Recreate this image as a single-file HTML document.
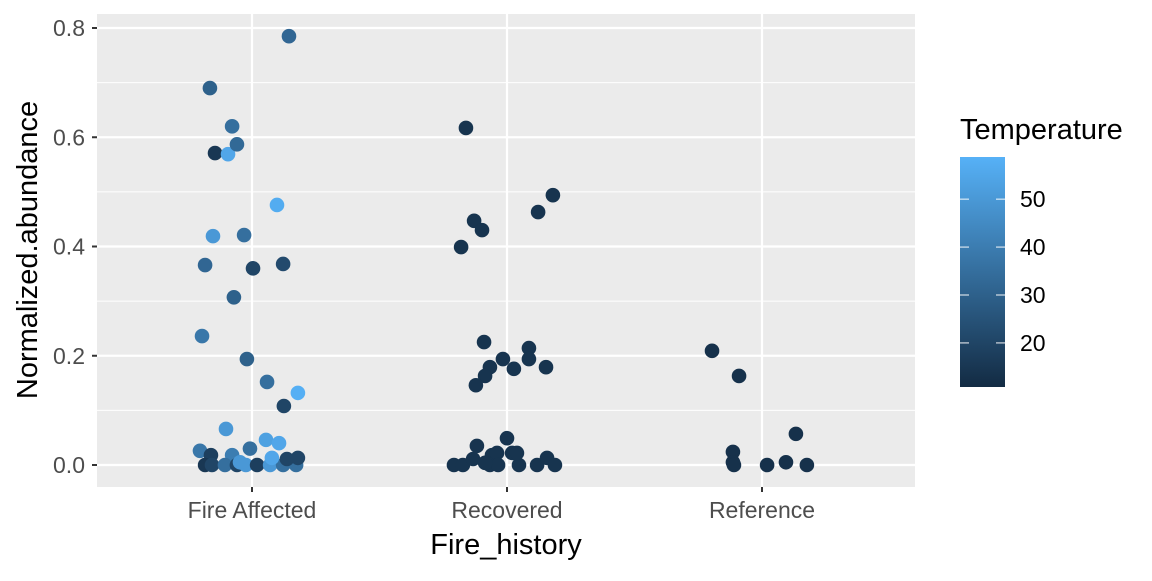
<!DOCTYPE html>
<html><head><meta charset="utf-8"><style>
body{margin:0;background:#fff;font-family:"Liberation Sans",Arial,sans-serif}
</style></head><body>
<svg id="chart" width="1152" height="576" xmlns="http://www.w3.org/2000/svg">
<defs><linearGradient id="cb" x1="0" y1="1" x2="0" y2="0"><stop offset="0" stop-color="#132B43"/><stop offset="1" stop-color="#56B1F7"/></linearGradient></defs>
<rect x="97" y="14" width="818" height="473" fill="#ebebeb"/>
<g id="grid"></g><g id="pts"></g><g id="axes"></g>
<text x="506" y="554" font-size="29" text-anchor="middle" fill="#000">Fire_history</text>
<text transform="translate(37,250) rotate(-90)" font-size="29" text-anchor="middle" fill="#000">Normalized.abundance</text>
<g>
<text x="960" y="139" font-size="29" fill="#000">Temperature</text>
<rect x="960" y="157" width="45" height="230" fill="url(#cb)"/>
<g id="leg"></g>
</g>
</svg>
<script>
const categories=["Fire Affected","Recovered","Reference"];
const yTicks=[0,0.2,0.4,0.6,0.8];
const legendTicks=[20,30,40,50];
const groupIdx=[0,0,0,0,0,0,0,0,0,0,0,0,0,0,0,0,0,0,0,0,0,0,0,0,0,0,0,0,0,0,0,0,0,0,0,0,0,0,
1,1,1,1,1,1,1,1,1,1,1,1,1,1,1,1,1,1,1,1,1,1,1,1,1,1,1,1,1,1,1,
2,2,2,2,2,2,2,2,2];
const jitter=[-0.165,0.145,-0.078,-0.145,-0.094,-0.059,0.098,-0.153,-0.031,-0.184,0.004,0.122,-0.071,-0.196,-0.02,0.059,0.125,0.18,-0.102,-0.204,0.055,0.106,-0.008,-0.161,-0.078,-0.184,-0.157,-0.106,-0.059,-0.024,0.02,0.071,0.122,0.173,0.137,0.18,0.078,-0.047,
-0.161,0.18,0.122,-0.129,-0.098,-0.18,-0.09,0.086,-0.016,0.086,-0.067,0.153,-0.086,0.027,-0.122,
-0.208,-0.173,-0.133,-0.118,-0.067,-0.059,-0.039,0,0.02,0.047,0.039,0.118,0.157,0.188,-0.035,-0.086,
-0.196,-0.09,-0.114,-0.114,-0.11,0.02,0.094,0.133,0.176];
const abundance=[0.69,0.785,0.62,0.571,0.569,0.587,0.476,0.419,0.421,0.366,0.36,0.368,0.307,0.236,0.194,0.152,0.108,0.132,0.066,0.026,0.046,0.04,0.03,0.018,0.018,0,0,0,0,0,0,0,0,0,0.011,0.013,0.013,0.005,
0.617,0.494,0.463,0.447,0.43,0.399,0.225,0.214,0.194,0.194,0.179,0.179,0.163,0.176,0.146,
0,0,0.011,0.035,0,0.018,0.022,0.049,0.022,0,0.022,0,0.013,0,0,0.004,
0.209,0.163,0.024,0.005,0,0,0.005,0.057,0];
const temperature=[30,32,35,15,55,33,57,50,35,32,20,22,30,38,30,35,20,58,50,38,53,55,35,18,40,15,20,35,20,50,18,50,35,35,20,20,55,50,
14,14,14,14,14,14,14,14,14,14,14,14,14,14,14,14,14,14,14,14,14,14,14,14,14,14,14,14,14,14,14,
13,13,13,13,13,13,13,13,13];
const NS="http://www.w3.org/2000/svg";
const X0=97,X1=915,Y0=465,YS=546.25;
const xs=v=>252+(v-1)*255;
const ys=v=>Y0-v*YS;
const tMin=10.8,tMax=58.8;
const cy=t=>387-(t-tMin)/(tMax-tMin)*230;
function col(t){let f=Math.max(0,Math.min(1,(t-tMin)/(tMax-tMin)));const a=[0x13,0x2B,0x43],b=[0x56,0xB1,0xF7];return `rgb(${a.map((v,i)=>Math.round(v+(b[i]-v)*f)).join(',')})`;}
function mk(tag,at,par){const e=document.createElementNS(NS,tag);for(const k in at)e.setAttribute(k,at[k]);par.appendChild(e);return e;}
const g=document.getElementById('grid'),ax=document.getElementById('axes'),pts=document.getElementById('pts'),leg=document.getElementById('leg');
for(let i=0;i<yTicks.length-1;i++){const v=(yTicks[i]+yTicks[i+1])/2;const l=mk('line',{x1:X0,x2:X1,y1:ys(v),y2:ys(v),stroke:'#fff','stroke-width':1},g);

}
yTicks.forEach(v=>{const l=mk('line',{x1:X0,x2:X1,y1:ys(v),y2:ys(v),stroke:'#fff','stroke-width':2.2},g);


const tk=mk('line',{x1:X0-5,x2:X0,y1:ys(v),y2:ys(v),stroke:'#333','stroke-width':2},ax);


const t=mk('text',{x:X0-12,y:ys(v)+8,'font-size':23,'text-anchor':'end',fill:'#4d4d4d'},ax);t.textContent=v.toFixed(1);

});
categories.forEach((c,i)=>{const x=xs(i+1);const l=mk('line',{x1:x,x2:x,y1:14,y2:487,stroke:'#fff','stroke-width':2.2},g);


const tk=mk('line',{x1:x,x2:x,y1:487,y2:492,stroke:'#333','stroke-width':2},ax);


const t=mk('text',{x:x,y:518,'font-size':23,'text-anchor':'middle',fill:'#4d4d4d'},ax);t.textContent=c;

});
abundance.forEach((v,i)=>{const c=mk('circle',{cx:xs(groupIdx[i]+1+jitter[i]),cy:ys(v),r:7.3,fill:col(temperature[i])},pts);

});
legendTicks.forEach(v=>{const y=cy(v);
const a=mk('line',{x1:960,x2:969,y1:y,y2:y,stroke:'#fff','stroke-width':1.2,opacity:0.8},leg);


const b=mk('line',{x1:996,x2:1005,y1:y,y2:y,stroke:'#fff','stroke-width':1.2,opacity:0.8},leg);


const t=mk('text',{x:1020,y:y+8,'font-size':23,fill:'#000'},leg);t.textContent=v;

});
</script>
</body></html>
